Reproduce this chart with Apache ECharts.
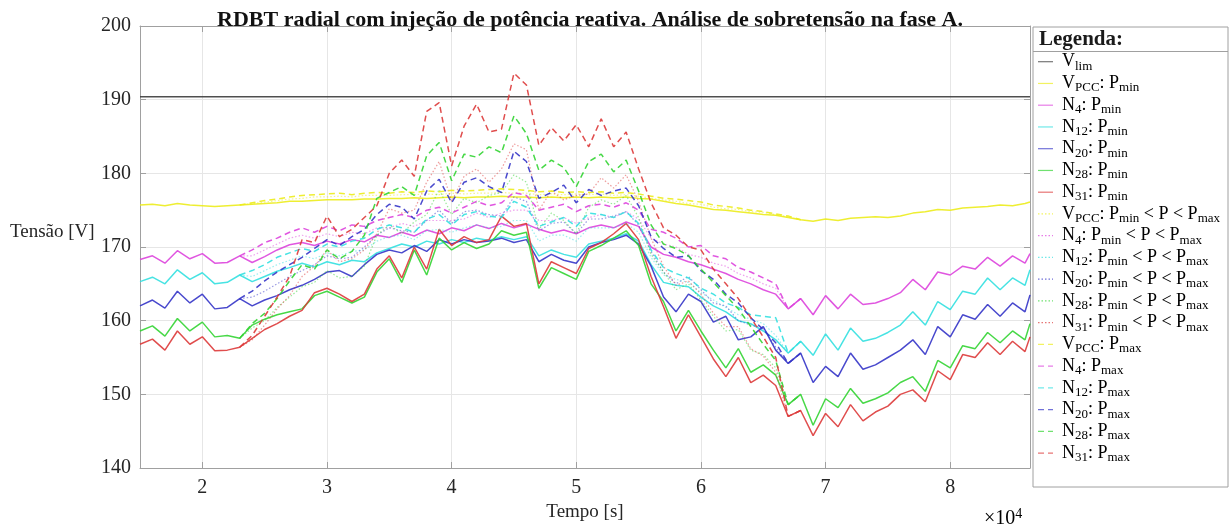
<!DOCTYPE html>
<html><head><meta charset="utf-8">
<script src="https://cdn.jsdelivr.net/npm/echarts@6/dist/echarts.min.js"></script>
<style>html,body{margin:0;padding:0;background:#fff}#c{width:1230px;height:529px}</style>
</head><body><div id="c"></div>
<script>
// time in seconds
const time = [15000,16000,17000,18000,19000,20000,21000,22000,23000,24000,25000,26000,27000,28000,29000,30000,31000,32000,33000,34000,35000,36000,37000,38000,39000,40000,41000,42000,43000,44000,45000,46000,47000,48000,49000,50000,51000,52000,53000,54000,55000,56000,57000,58000,59000,60000,61000,62000,63000,64000,65000,66000,67000,68000,69000,70000,71000,72000,73000,74000,75000,76000,77000,78000,79000,80000,81000,82000,83000,84000,85000,86000,86400];
const dayFrom = 23000, dayTo = 68000;
const xTicks = [20000,30000,40000,50000,60000,70000,80000];
const vLimTime = [15000, 86400];
const vLim = [190.4, 190.4];

// P min (solid)
const vpccMin = [175.7,175.8,175.6,175.9,175.7,175.6,175.5,175.6, 175.7,175.8,175.9,176.0,176.2,176.2,176.3,176.4, 176.4,176.4,176.5,176.5,176.6,176.6,176.7,176.6, 176.7,176.8,176.7,176.8,176.8,176.9,176.8,176.8, 176.7,176.8,176.7,176.8,176.7,176.8,176.7,176.8, 176.6,176.5,176.2,175.9,175.7,175.4,175.1,175.0, 174.8,174.6,174.4,174.3,174.0,173.7,173.5,173.8, 173.6,173.9,174.0,174.1,174.0,174.2,174.6,174.8, 175.1,175.0,175.3,175.4,175.5,175.7,175.6,175.9, 176.1];
const n4Min = [168.3,168.8,167.8,169.5,168.4,169.1,167.8,167.9, 168.8,167.9,168.7,169.6,170.3,170.6,170.2,170.8, 170.4,171.0,170.7,171.6,171.3,172.0,171.5,172.3, 171.8,172.6,172.2,173.0,172.5,173.2,172.6,173.1, 172.4,171.9,172.3,171.8,172.6,173.0,172.6,173.4, 172.8,170.0,169.0,168.6,168.0,167.6,167.0,166.4, 165.6,165.0,164.2,163.6,161.6,163.0,160.8,163.4, 161.6,163.6,162.2,162.4,163.0,163.8,165.6,164.2, 166.6,166.2,167.4,167.0,168.6,167.4,168.8,167.8, 169.1];
const n12Min = [165.3,165.9,165.0,166.9,165.6,166.5,165.0,165.2, 166.2,165.3,166.0,166.7,167.2,167.8,167.3,168.0, 167.6,168.2,168.0,169.2,169.8,170.4,170.0,170.8, 170.4,171.0,170.6,171.2,170.9,171.4,171.0,171.4, 168.8,169.6,169.0,168.6,170.4,170.8,171.2,171.8, 170.8,167.6,165.2,164.8,164.6,163.2,162.0,161.2, 160.0,159.6,158.6,157.4,155.6,157.2,155.3,158.2, 156.0,159.0,157.2,157.6,158.4,159.4,161.2,159.4, 162.6,161.5,164.0,163.6,165.8,164.2,165.8,164.8, 166.9];
const n20Min = [162.0,162.8,161.7,164.0,162.4,163.6,161.6,161.8, 163.0,162.0,162.8,163.4,164.2,164.8,165.6,166.6, 166.8,166.0,167.6,169.0,169.6,169.2,170.2,169.4, 171.0,170.4,171.0,170.6,170.8,171.2,170.6,171.0, 168.0,169.0,168.2,167.8,170.0,170.6,171.0,171.6, 170.4,167.4,163.2,161.2,163.6,162.6,159.8,160.6, 157.4,157.8,159.2,156.0,154.2,155.6,151.6,153.8, 152.4,155.6,153.4,154.0,155.0,156.0,157.4,155.4, 159.2,157.8,160.8,160.2,162.2,160.6,162.4,161.2, 163.5];
const n28Min = [158.6,159.3,157.9,160.3,158.6,159.8,157.8,158.0, 157.6,159.4,160.2,160.8,161.2,161.6,163.4,164.0, 163.2,162.4,163.2,166.6,168.4,165.2,169.6,166.2, 171.2,169.6,170.6,169.8,170.4,172.2,171.6,172.0, 164.4,167.2,166.4,165.6,169.4,170.2,171.2,172.2, 170.2,165.0,162.6,158.6,161.4,158.6,156.0,153.6, 156.2,153.0,154.0,152.6,148.6,150.0,145.8,149.4, 148.2,150.8,148.8,149.4,150.2,151.6,152.4,150.4, 154.6,153.6,156.6,156.2,158.4,157.0,158.6,157.4, 159.6];
const n31Min = [156.8,157.5,156.0,158.6,156.8,157.8,155.9,156.0, 156.4,157.6,158.8,159.6,160.6,161.4,163.8,164.4, 163.6,162.6,163.6,167.0,168.8,165.8,170.0,167.0, 172.4,170.2,171.4,170.6,171.0,174.2,172.8,173.2, 165.0,168.0,167.2,166.4,169.8,170.6,171.8,173.2, 171.0,166.0,161.9,157.6,160.8,157.8,154.8,152.4, 155.0,151.6,152.6,151.2,147.0,147.8,144.4,147.4, 145.6,148.6,146.4,147.6,148.4,150.0,150.6,149.0, 153.2,152.0,155.4,155.0,157.0,155.4,157.2,155.8, 157.8];

// Pmin < P < Pmax (dotted), 23000..68000 s
const vpccMid = [175.7,175.9,176.1,176.3,176.5,176.6,176.8,176.8, 176.9,176.8,177.0,177.0,177.0,177.1,177.1,177.2, 177.1,177.3,177.2,177.3,177.3,177.4,177.3,177.3, 177.1,177.2,177.1,177.2,177.1,177.2,177.0,177.1, 176.9,176.6,176.4,176.2,175.9,175.8,175.4,175.2, 175.1,174.8,174.7,174.4,174.1,173.7];
const n4Mid = [168.8,168.8,169.6,170.4,171.2,171.6,171.2,171.8, 171.4,172.0,171.8,172.6,172.6,173.2,172.8,173.6, 173.6,173.6,173.8,174.6,174.0,174.6,175.0,175.0, 173.6,173.6,174.0,173.2,174.0,174.4,174.0,174.8, 173.8,171.2,170.4,170.0,169.0,168.6,167.8,167.4, 166.4,165.8,165.0,164.4,161.6,163.0];
const n12Mid = [166.2,166.0,166.8,167.6,168.2,168.8,168.4,169.2, 168.8,169.4,169.6,170.8,171.4,171.6,171.0,172.2, 172.4,172.0,172.6,173.0,172.6,172.8,173.6,173.6, 170.8,171.6,171.6,170.8,172.6,172.6,172.6,173.2, 172.0,168.6,166.2,165.6,165.2,163.8,162.8,161.8, 160.8,160.2,159.6,158.0,155.6,157.2];
const n20Mid = [163.0,163.2,164.0,165.0,166.0,166.8,167.6,168.8, 168.4,168.6,170.0,171.6,172.6,172.2,172.0,173.6, 175.0,173.2,174.8,175.0,174.4,174.2,176.8,176.2, 172.2,173.2,173.4,171.8,173.8,173.8,174.2,174.8, 173.0,169.4,166.6,165.0,166.0,164.2,162.4,162.0, 160.0,159.4,159.0,156.4,154.2,155.6];
const n28Mid = [157.6,159.0,160.0,161.8,163.2,164.6,165.2,166.8, 165.8,166.0,167.4,171.6,173.0,171.8,173.4,174.4, 177.8,174.4,176.6,176.0,177.0,177.4,179.8,178.8, 172.4,174.6,173.6,171.8,175.4,176.4,175.8,177.0, 174.0,169.0,166.6,164.2,165.0,162.8,160.6,158.6, 158.8,156.0,155.4,153.6,148.6,150.0];
const n31Mid = [156.4,157.4,159.4,161.6,163.4,166.0,167.4,169.6, 168.0,168.4,169.6,171.8,175.2,174.6,175.0,178.8, 181.6,176.2,179.6,180.6,178.8,180.6,184.0,183.2, 175.0,177.6,176.4,177.0,177.2,179.4,178.0,179.8, 176.2,171.2,167.4,164.8,165.4,163.6,161.0,159.2, 159.2,156.2,155.2,153.0,147.0,147.8];

// P max (dashed), 23000..68000 s
const vpccMax = [175.7,176.0,176.3,176.5,176.8,177.0,177.1,177.2, 177.3,177.1,177.3,177.4,177.3,177.5,177.4,177.6, 177.5,177.7,177.6,177.7,177.8,177.9,177.8,177.7, 177.5,177.6,177.4,177.5,177.4,177.5,177.3,177.4, 177.2,176.9,176.6,176.5,176.3,176.1,175.7,175.5, 175.3,175.0,174.8,174.5,174.2,173.7];
const n4Max = [168.8,169.6,170.6,171.2,172.0,172.6,172.0,172.8, 172.2,173.0,172.8,173.6,174.0,174.4,174.0,175.0, 175.4,174.6,175.4,176.2,175.6,176.0,177.4,177.0, 175.0,175.4,175.8,174.8,175.6,175.8,175.4,176.0, 175.0,172.4,172.0,171.2,170.0,170.2,168.8,168.4, 167.2,166.6,165.8,165.0,161.6,163.0];
const n12Max = [166.2,166.8,167.6,168.6,169.2,169.8,169.4,170.4, 170.0,170.8,171.2,172.4,173.0,172.6,172.0,173.8, 174.4,173.0,174.4,174.8,174.2,174.0,176.2,175.4, 172.8,173.4,174.0,172.8,174.6,174.4,174.0,174.8, 173.2,169.6,167.2,166.4,165.8,164.4,163.6,162.4, 161.8,160.8,160.6,160.4,155.6,157.2];
const n20Max = [163.0,164.0,165.4,166.6,167.6,168.6,169.8,171.0, 170.2,171.4,172.4,174.4,175.8,175.4,173.8,177.6, 179.2,176.0,178.8,179.4,178.2,177.4,183.0,181.6, 176.6,177.4,178.4,176.0,177.8,177.0,177.6,178.0, 175.6,171.4,169.8,168.6,168.8,166.8,165.6,163.6, 162.4,160.4,158.8,157.0,154.2,155.6];
const n28Max = [157.6,159.6,161.0,163.0,165.4,167.6,167.0,169.6, 168.4,169.4,171.6,176.6,177.4,178.2,177.0,182.4, 184.2,179.0,182.6,182.2,183.6,182.8,187.8,185.4, 180.4,181.8,180.8,178.2,181.6,182.6,180.2,181.8, 177.6,173.0,170.4,169.8,168.8,167.0,165.2,163.4, 161.6,159.2,156.8,154.6,148.6,150.0];
const n31Max = [156.4,158.0,160.6,163.2,166.0,171.0,170.6,174.2, 171.4,172.4,174.0,175.6,180.0,181.8,179.6,188.4, 189.6,181.0,186.4,189.4,185.6,186.0,193.6,192.0, 183.8,186.2,184.4,186.6,183.6,187.4,183.6,185.6, 180.6,176.0,172.6,171.6,170.0,169.6,167.0,165.0, 163.0,160.4,157.8,155.0,147.0,147.8];

const dayTime = time.filter(t => t >= dayFrom && t <= dayTo);
const pairs = (ts, vs) => vs.map((v, i) => [ts[i], v]);

const C = {lim:'#3c3c3c', y:'#ecec1c', m:'#dd44dd', c:'#33e0e0', b:'#3535c8', g:'#33d433', r:'#dd3a3a'};
const FONT = 'Liberation Serif, Times New Roman, serif';

const defs = [
  {name:'Vlim', lbl:'{m|V}{s|lim}', col:C.lim, kind:'solid', data:pairs(vLimTime, vLim)},
  {name:'VPCC: Pmin', lbl:'{m|V}{s|PCC}{m|: P}{s|min}', col:C.y, kind:'solid', data:pairs(time, vpccMin)},
  {name:'N4: Pmin', lbl:'{m|N}{s|4}{m|: P}{s|min}', col:C.m, kind:'solid', data:pairs(time, n4Min)},
  {name:'N12: Pmin', lbl:'{m|N}{s|12}{m|: P}{s|min}', col:C.c, kind:'solid', data:pairs(time, n12Min)},
  {name:'N20: Pmin', lbl:'{m|N}{s|20}{m|: P}{s|min}', col:C.b, kind:'solid', data:pairs(time, n20Min)},
  {name:'N28: Pmin', lbl:'{m|N}{s|28}{m|: P}{s|min}', col:C.g, kind:'solid', data:pairs(time, n28Min)},
  {name:'N31: Pmin', lbl:'{m|N}{s|31}{m|: P}{s|min}', col:C.r, kind:'solid', data:pairs(time, n31Min)},
  {name:'VPCC: Pmin < P < Pmax', lbl:'{m|V}{s|PCC}{m|: P}{s|min}{m| < P < P}{s|max}', col:C.y, kind:'dotted', data:pairs(dayTime, vpccMid)},
  {name:'N4: Pmin < P < Pmax', lbl:'{m|N}{s|4}{m|: P}{s|min}{m| < P < P}{s|max}', col:C.m, kind:'dotted', data:pairs(dayTime, n4Mid)},
  {name:'N12: Pmin < P < Pmax', lbl:'{m|N}{s|12}{m|: P}{s|min}{m| < P < P}{s|max}', col:C.c, kind:'dotted', data:pairs(dayTime, n12Mid)},
  {name:'N20: Pmin < P < Pmax', lbl:'{m|N}{s|20}{m|: P}{s|min}{m| < P < P}{s|max}', col:C.b, kind:'dotted', data:pairs(dayTime, n20Mid)},
  {name:'N28: Pmin < P < Pmax', lbl:'{m|N}{s|28}{m|: P}{s|min}{m| < P < P}{s|max}', col:C.g, kind:'dotted', data:pairs(dayTime, n28Mid)},
  {name:'N31: Pmin < P < Pmax', lbl:'{m|N}{s|31}{m|: P}{s|min}{m| < P < P}{s|max}', col:C.r, kind:'dotted', data:pairs(dayTime, n31Mid)},
  {name:'VPCC: Pmax', lbl:'{m|V}{s|PCC}{m|: P}{s|max}', col:C.y, kind:'dashed', data:pairs(dayTime, vpccMax)},
  {name:'N4: Pmax', lbl:'{m|N}{s|4}{m|: P}{s|max}', col:C.m, kind:'dashed', data:pairs(dayTime, n4Max)},
  {name:'N12: Pmax', lbl:'{m|N}{s|12}{m|: P}{s|max}', col:C.c, kind:'dashed', data:pairs(dayTime, n12Max)},
  {name:'N20: Pmax', lbl:'{m|N}{s|20}{m|: P}{s|max}', col:C.b, kind:'dashed', data:pairs(dayTime, n20Max)},
  {name:'N28: Pmax', lbl:'{m|N}{s|28}{m|: P}{s|max}', col:C.g, kind:'dashed', data:pairs(dayTime, n28Max)},
  {name:'N31: Pmax', lbl:'{m|N}{s|31}{m|: P}{s|max}', col:C.r, kind:'dashed', data:pairs(dayTime, n31Max)}
];

const dashOf = k => k === 'dashed' ? [6, 4] : (k === 'dotted' ? [1.5, 2] : null);

const series = defs.map(d => ({
  name: d.name, type: 'line', data: d.data, showSymbol: false, symbol: 'none',
  animation: false, silent: true,
  lineStyle: {
    color: d.col,
    width: d.kind === 'dotted' ? 1.2 : 1.5,
    type: d.kind === 'solid' ? 'solid' : dashOf(d.kind),
    opacity: d.kind === 'dotted' ? 0.5 : 0.9
  }
}));

const rich = {
  m: {fontFamily: FONT, fontSize: 18, color: '#1a1a1a', lineHeight: 22},
  s: {fontFamily: FONT, fontSize: 13, color: '#1a1a1a', lineHeight: 14, verticalAlign: 'bottom'}
};

const legendEls = [
  {type:'rect', shape:{x:1033, y:27, width:195, height:460}, style:{fill:'#fff', stroke:'#a0a0a0', lineWidth:1}, z:10},
  {type:'line', shape:{x1:1033, y1:51.5, x2:1228, y2:51.5}, style:{stroke:'#a0a0a0', lineWidth:1}, z:11},
  {type:'text', x:1039, y:40, style:{text:'Legenda:', fontFamily:FONT, fontSize:21, fontWeight:'bold', fill:'#1a1a1a', verticalAlign:'middle'}, z:11}
];
defs.forEach((d, i) => {
  const y = 61.7 + 21.75 * i;
  legendEls.push({type:'line', shape:{x1:1038, y1:y, x2:1053, y2:y},
    style:{stroke:d.col, lineWidth:1.2, lineDash: dashOf(d.kind), opacity: 0.7}, z:11});
  legendEls.push({type:'text', x:1062, y:y, style:{text:d.lbl, rich:rich, verticalAlign:'middle', align:'left'}, z:11});
});

const axisGray = '#a0a0a0';
const chart = echarts.init(document.getElementById('c'), null, {renderer:'canvas'});
chart.setOption({
  animation: false,
  backgroundColor: '#fff',
  title: {
    text: 'RDBT radial com injeção de potência reativa. Análise de sobretensão na fase A.',
    left: 585, top: 4, textAlign: 'center',
    textStyle: {fontFamily: FONT, fontSize: 22, fontWeight: 'bold', color: '#111'}
  },
  grid: {left: 140, right: 200, top: 26, bottom: 61},
  xAxis: [{
    type: 'value', min: 15000, max: 86400,
    axisLine: {show: true, lineStyle: {color: axisGray}},
    axisTick: {show: true, inside: true, length: 6, customValues: xTicks, lineStyle: {color: axisGray}},
    axisLabel: {customValues: xTicks, formatter: v => String(v / 10000), margin: 10,
      fontFamily: FONT, fontSize: 20, color: '#262626'},
    splitLine: {show: true, lineStyle: {color: '#e6e6e6'}},
    name: 'Tempo [s]', nameLocation: 'middle', nameGap: 33,
    nameTextStyle: {fontFamily: FONT, fontSize: 19, color: '#262626'}
  }, {
    type: 'value', position: 'top', min: 15000, max: 86400,
    axisLine: {show: true, lineStyle: {color: axisGray}},
    axisTick: {show: true, inside: true, length: 6, customValues: xTicks, lineStyle: {color: axisGray}},
    axisLabel: {show: false}, splitLine: {show: false}
  }],
  yAxis: [{
    type: 'value', min: 140, max: 200, interval: 10,
    axisLine: {show: true, lineStyle: {color: axisGray}},
    axisTick: {show: true, inside: true, length: 6, lineStyle: {color: axisGray}},
    axisLabel: {margin: 9, fontFamily: FONT, fontSize: 20, color: '#262626'},
    splitLine: {show: true, lineStyle: {color: '#e6e6e6'}}
  }, {
    type: 'value', position: 'right', min: 140, max: 200, interval: 10,
    axisLine: {show: true, lineStyle: {color: axisGray}},
    axisTick: {show: true, inside: true, length: 6, lineStyle: {color: axisGray}},
    axisLabel: {show: false}, splitLine: {show: false}
  }],
  graphic: [
    {type:'text', x:10, y:232, style:{text:'Tensão [V]', fontFamily:FONT, fontSize:19, fill:'#262626', verticalAlign:'middle'}},
    {type:'text', x:984, y:519, style:{text:'{a|×10}{b|4}', rich:{
      a:{fontFamily:FONT, fontSize:20, color:'#262626', lineHeight:24},
      b:{fontFamily:FONT, fontSize:14, color:'#262626', lineHeight:14, verticalAlign:'top'}}, verticalAlign:'middle'}}
  ].concat(legendEls),
  series: series
});
</script></body></html>
